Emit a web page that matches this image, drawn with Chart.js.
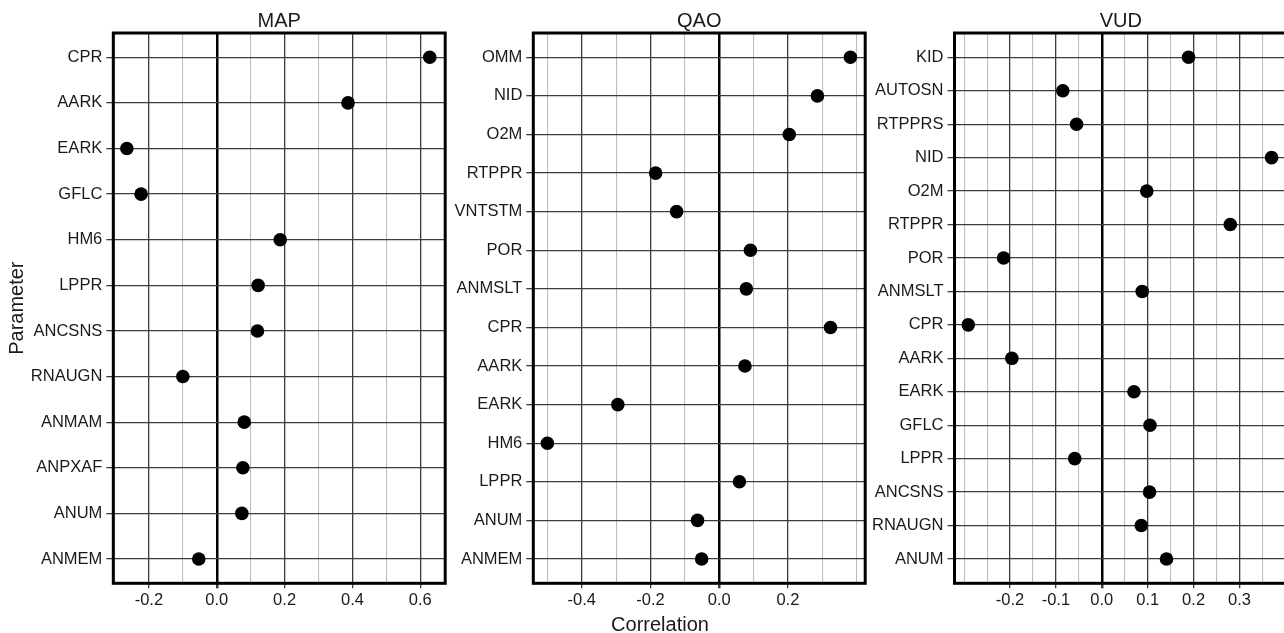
<!DOCTYPE html>
<html>
<head>
<meta charset="utf-8">
<script src="https://cdn.jsdelivr.net/npm/chart.js@4.4.1/dist/chart.umd.min.js"></script>
<style>
  html, body { margin: 0; padding: 0; background: #fff; overflow: hidden; }
  #wrap { position: relative; width: 1284px; height: 633px; overflow: hidden; }
  .panel { position: absolute; top: 0; height: 633px; }
  #xlabel {
    position: absolute; top: 613px; left: 0; width: 1320px;
    text-align: center; line-height: 20px; color: #1a1a1a;
    font: 20px "Liberation Sans", Arial, sans-serif;
  }
</style>
</head>
<body>
<div id="wrap">
  <div class="panel" style="left:0;width:452px"><canvas id="mapChart" width="452" height="633"></canvas></div>
  <div class="panel" style="left:440px;width:432px"><canvas id="qaoChart" width="432" height="633"></canvas></div>
  <div class="panel" style="left:862px;width:432px"><canvas id="vudChart" width="432" height="633"></canvas></div>
  <div id="xlabel">Correlation</div>
</div>
<script>
// MAP
const mapParams = ['CPR', 'AARK', 'EARK', 'GFLC', 'HM6', 'LPPR', 'ANCSNS', 'RNAUGN', 'ANMAM', 'ANPXAF', 'ANUM', 'ANMEM']
const mapCorr = [0.628, 0.387, -0.265, -0.223, 0.187, 0.122, 0.120, -0.100, 0.081, 0.077, 0.074, -0.053]
const mapMajor = [-0.2, 0, 0.2, 0.4, 0.6]
const mapMinor = [-0.3, -0.1, 0.1, 0.3, 0.5]

// QAO
const qaoParams = ['OMM', 'NID', 'O2M', 'RTPPR', 'VNTSTM', 'POR', 'ANMSLT', 'CPR', 'AARK', 'EARK', 'HM6', 'LPPR', 'ANUM', 'ANMEM']
const qaoCorr = [0.382, 0.286, 0.204, -0.185, -0.124, 0.091, 0.079, 0.324, 0.075, -0.295, -0.500, 0.059, -0.063, -0.051]
const qaoMajor = [-0.4, -0.2, 0, 0.2]
const qaoMinor = [-0.5, -0.3, -0.1, 0.1, 0.3, 0.4]

// VUD
const vudParams = ['KID', 'AUTOSN', 'RTPPRS', 'NID', 'O2M', 'RTPPR', 'POR', 'ANMSLT', 'CPR', 'AARK', 'EARK', 'GFLC', 'LPPR', 'ANCSNS', 'RNAUGN', 'ANUM']
const vudCorr = [0.189, -0.085, -0.055, 0.370, 0.098, 0.280, -0.214, 0.088, -0.291, -0.196, 0.070, 0.105, -0.059, 0.104, 0.086, 0.141]
const vudMajor = [-0.2, -0.1, 0, 0.1, 0.2, 0.3]
const vudMinor = [-0.3, -0.25, -0.15, -0.05, 0.05, 0.15, 0.25, 0.35]

Chart.defaults.font.family = '"Liberation Sans", Arial, Helvetica, sans-serif'
Chart.defaults.color = '#1a1a1a'

const GRID = '#3c3c3c'
const MINOR = '#bdbdbd'

const hasValue = (list, v) => list.some(m => Math.abs(m - v) < 1e-9)

// box round the plot area
const frame = {
  id: 'frame',
  afterDatasetsDraw(chart) {
    const { ctx, chartArea: a } = chart
    ctx.save()
    ctx.lineWidth = 3
    ctx.strokeStyle = '#000'
    ctx.strokeRect(a.left, a.top, a.right - a.left, a.bottom - a.top)
    ctx.restore()
  }
}

const makePanel = (id, cfg) => {
  const n = cfg.params.length
  // keep roughly 24px between the border and the first / last row
  const spacing = (550 - 48.6) / (n - 1)
  const pad = 24.3 / spacing

  return new Chart(document.getElementById(id), {
    type: 'scatter',
    data: {
      datasets: [{
        data: cfg.params.map((p, i) => ({ x: cfg.corr[i], y: i })),
        pointRadius: 6.8,
        pointHoverRadius: 6.8,
        backgroundColor: '#000',
        borderWidth: 0
      }]
    },
    options: {
      responsive: false,
      animation: false,
      layout: { padding: { left: 0, right: cfg.padRight, top: 0, bottom: 0 } },
      plugins: {
        legend: { display: false },
        tooltip: { enabled: false },
        title: {
          display: true,
          text: cfg.title,
          fullSize: false,
          font: { size: 20, weight: 'normal' },
          padding: { top: 9, bottom: 0 }
        }
      },
      scales: {
        x: {
          type: 'linear',
          min: cfg.xmin,
          max: cfg.xmax,
          afterBuildTicks: s => {
            s.ticks = [...cfg.major, ...cfg.minor].sort((a, b) => a - b).map(v => ({ value: v }))
          },
          afterFit: s => { s.height = 49.7 },
          border: { display: false },
          grid: {
            color: c => c.tick.value === 0 ? '#000' : hasValue(cfg.major, c.tick.value) ? GRID : MINOR,
            lineWidth: c => c.tick.value === 0 ? 2.5 : hasValue(cfg.major, c.tick.value) ? 1.3 : 1.1,
            tickColor: c => hasValue(cfg.major, c.tick.value) ? GRID : 'rgba(0,0,0,0)',
            tickLength: 5
          },
          ticks: {
            autoSkip: false,
            maxRotation: 0,
            padding: 2,
            font: { size: 16.5 },
            callback: v => hasValue(cfg.major, v) ? v.toFixed(1) : ''
          }
        },
        y: {
          type: 'linear',
          reverse: true,
          min: -pad,
          max: n - 1 + pad,
          afterBuildTicks: s => {
            s.ticks = cfg.params.map((p, i) => ({ value: i }))
          },
          afterFit: s => { s.width = cfg.yWidth },
          border: { display: false },
          title: {
            display: !!cfg.yTitle,
            text: cfg.yTitle || '',
            font: { size: 20, lineHeight: 1 },
            padding: { top: 7, bottom: 0 }
          },
          grid: {
            color: GRID,
            lineWidth: 1.3,
            tickLength: 7
          },
          ticks: {
            autoSkip: false,
            padding: 4,
            font: { size: 16.5 },
            callback: v => cfg.params[v]
          }
        }
      }
    },
    plugins: [frame]
  })
}

makePanel('mapChart', {
  title: 'MAP', params: mapParams, corr: mapCorr, major: mapMajor, minor: mapMinor,
  xmin: -0.305, xmax: 0.6735, yWidth: 113.3, padRight: 6, yTitle: 'Parameter'
})
makePanel('qaoChart', {
  title: 'QAO', params: qaoParams, corr: qaoCorr, major: qaoMajor, minor: qaoMinor,
  xmin: -0.541, xmax: 0.425, yWidth: 93.3, padRight: 5.3
})
makePanel('vudChart', {
  title: 'VUD', params: vudParams, corr: vudCorr, major: vudMajor, minor: vudMinor,
  xmin: -0.321, xmax: 0.404, yWidth: 92.5, padRight: 6
})
</script>
</body>
</html>
